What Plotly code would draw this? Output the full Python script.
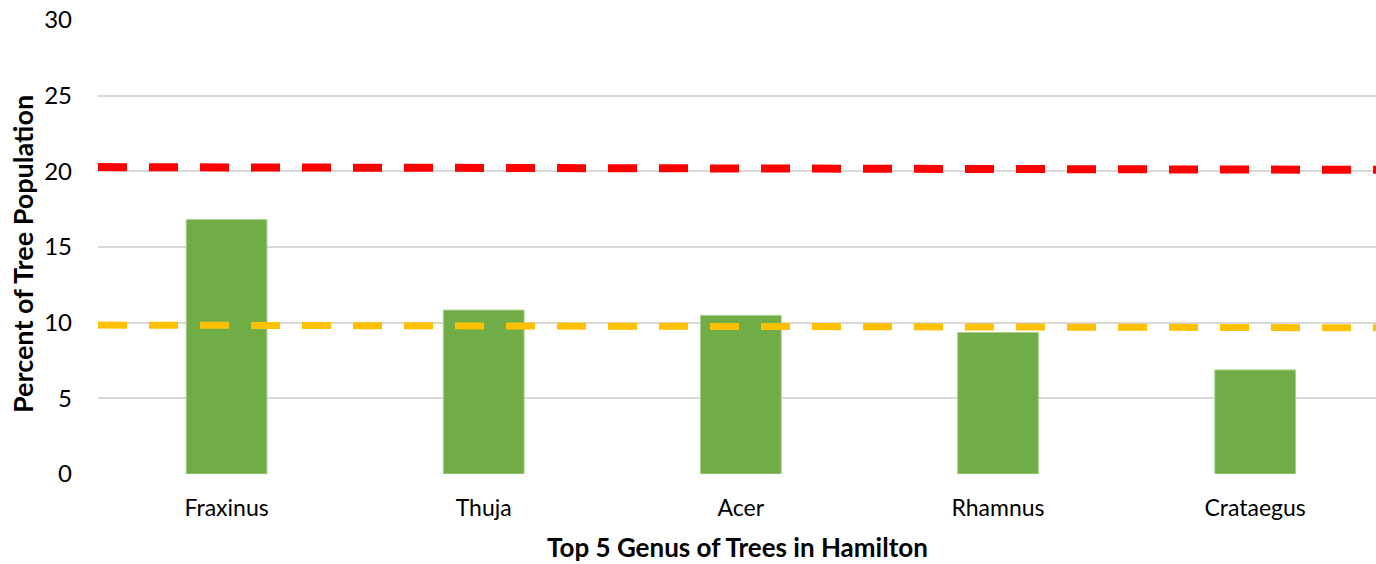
import plotly.graph_objects as go

genera = ["Fraxinus", "Thuja", "Acer", "Rhamnus", "Crataegus"]
percent = [16.81, 10.83, 10.48, 9.35, 6.88]

line_pos = [0, 1]
red_line = [20.28, 20.1]
yellow_line = [9.84, 9.66]

y_ticks = [0, 5, 10, 15, 20, 25, 30]

FONT = "Lato"

fig = go.Figure()
fig.add_trace(go.Bar(
    x=genera, y=percent, width=0.314,
    marker=dict(color="#70AD47", line=dict(color="#A9D18E", width=1)),
    showlegend=False,
))
fig.add_trace(go.Scatter(
    x=line_pos, y=red_line, xaxis="x2", mode="lines",
    line=dict(color="#FF0000", width=8, dash="29px,22px"),
    showlegend=False,
))
fig.add_trace(go.Scatter(
    x=line_pos, y=yellow_line, xaxis="x2", mode="lines",
    line=dict(color="#FFC000", width=7, dash="29px,22px"),
    showlegend=False,
))

fig.update_layout(
    width=1376, height=564,
    margin=dict(l=98, r=0, t=20, b=90),
    paper_bgcolor="white", plot_bgcolor="white",
    font=dict(family=FONT, color="#000000", size=24),
    xaxis=dict(
        range=[-0.5, 4.47], showgrid=False, zeroline=False,
        showline=False, ticks="", ticklabelstandoff=18,
        automargin=False,
        tickfont=dict(size=23, family=FONT),
    ),
    xaxis2=dict(range=[0, 1], overlaying="x", visible=False),
    yaxis=dict(
        range=[0, 30], tickvals=y_ticks, showgrid=True,
        gridcolor="#D9D9D9", gridwidth=2, zeroline=False,
        showline=False, ticks="", ticklabelstandoff=25,
        automargin=False,
        tickfont=dict(size=24, family=FONT),
    ),
    annotations=[
        dict(text="<b>Top 5 Genus of Trees in Hamilton</b>",
             xref="paper", yref="paper", x=0.5, y=0,
             xanchor="center", yanchor="middle", yshift=-73,
             borderpad=0,
             showarrow=False, font=dict(size=26, family=FONT)),
        dict(text="<b>Percent of Tree Population</b>",
             xref="paper", yref="paper", x=0, y=0.5,
             xanchor="center", yanchor="middle", xshift=-76, yshift=-7,
             textangle=-90, borderpad=0,
             showarrow=False, font=dict(size=27, family=FONT)),
    ],
)

fig.write_html(
    "out.html",
    config={"displayModeBar": False},
    post_script="document.body.style.margin='0';document.body.style.overflow='hidden';",
)
